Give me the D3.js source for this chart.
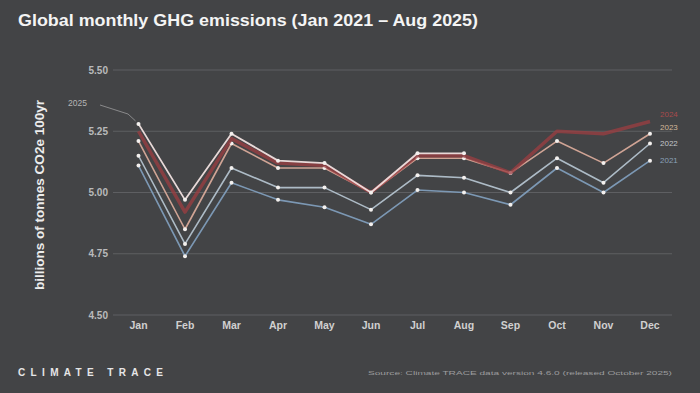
<!DOCTYPE html>
<html>
<head>
<meta charset="utf-8">
<script src="https://cdn.jsdelivr.net/npm/d3@7"></script>
<style>
  html, body { margin: 0; padding: 0; background: #434446; }
  svg { display: block; }
</style>
</head>
<body>
<svg id="chart" width="700" height="393"></svg>
<script>
const months = ["Jan", "Feb", "Mar", "Apr", "May", "Jun", "Jul", "Aug", "Sep", "Oct", "Nov", "Dec"]
const yTicks = [4.50, 4.75, 5.00, 5.25, 5.50]

const y2021 = [5.11, 4.74, 5.04, 4.97, 4.94, 4.87, 5.01, 5.00, 4.95, 5.10, 5.00, 5.13]
const y2022 = [5.15, 4.79, 5.10, 5.02, 5.02, 4.93, 5.07, 5.06, 5.00, 5.14, 5.04, 5.20]
const y2023 = [5.21, 4.85, 5.20, 5.10, 5.10, 5.00, 5.14, 5.14, 5.08, 5.21, 5.12, 5.24]
const y2024 = [5.25, 4.92, 5.22, 5.12, 5.11, 5.00, 5.15, 5.15, 5.08, 5.25, 5.24, 5.29]
const y2025 = [5.28, 4.97, 5.24, 5.13, 5.12, 5.00, 5.16, 5.16]

const series = [
  { name: "2021", values: y2021, color: "#7f9dbb", width: 1.6, dots: true },
  { name: "2022", values: y2022, color: "#b3c2ce", width: 1.6, dots: true },
  { name: "2023", values: y2023, color: "#d8aa9a", width: 1.6, dots: true },
  { name: "2024", values: y2024, color: "#9c3e42", width: 3.5, dots: false },
  { name: "2025", values: y2025, color: "#f1e2e0", width: 1.8, dots: true }
]

const svg = d3.select("#chart")

const x = d3.scalePoint().domain(months).range([138.5, 650])
const y = d3.scaleLinear().domain([4.5, 5.5]).range([315, 70])

// title
svg.append("text")
  .attr("x", 18).attr("y", 26)
  .attr("fill", "#f4f4f4")
  .attr("font-family", "Liberation Sans, Arial, sans-serif")
  .attr("font-weight", "bold")
  .attr("font-size", 17)
  .attr("textLength", 460)
  .attr("lengthAdjust", "spacingAndGlyphs")
  .text("Global monthly GHG emissions (Jan 2021 \u2013 Aug 2025)")

// grid + y labels
const grid = svg.append("g")
grid.selectAll("line").data(yTicks).join("line")
  .attr("x1", 113).attr("x2", 672)
  .attr("y1", d => y(d)).attr("y2", d => y(d))
  .attr("stroke", "#5e5f62").attr("stroke-width", 1)
grid.selectAll("text").data(yTicks).join("text")
  .attr("x", 108).attr("y", d => y(d) + 3.5)
  .attr("text-anchor", "end")
  .attr("fill", "#b9babb")
  .attr("font-family", "Liberation Sans, Arial, sans-serif")
  .attr("font-weight", "bold")
  .attr("font-size", 10)
  .text(d => d.toFixed(2))

// y title
svg.append("text")
  .attr("transform", "translate(44,195) rotate(-90)")
  .attr("text-anchor", "middle")
  .attr("fill", "#ececec")
  .attr("font-family", "Liberation Sans, Arial, sans-serif")
  .attr("font-weight", "bold")
  .attr("font-size", 12)
  .attr("textLength", 190)
  .attr("lengthAdjust", "spacingAndGlyphs")
  .text("billions of tonnes CO2e 100yr")

// x labels
svg.append("g").selectAll("text").data(months).join("text")
  .attr("x", d => x(d)).attr("y", 329)
  .attr("text-anchor", "middle")
  .attr("fill", "#d0d0d0")
  .attr("font-family", "Liberation Sans, Arial, sans-serif")
  .attr("font-weight", "bold")
  .attr("font-size", 10.5)
  .text(d => d)

// lines
const line = d3.line()
  .x((d, i) => x(months[i]))
  .y(d => y(d))

const lines = svg.append("g")
series.forEach(s => {
  lines.append("path")
    .attr("fill", "none")
    .attr("stroke", s.color)
    .attr("stroke-opacity", s.dots ? 0.95 : 0.75)
    .attr("stroke-width", s.width)
    .attr("stroke-linejoin", "round")
    .attr("d", line(s.values))
  if (s.dots) {
    lines.append("g").selectAll("circle").data(s.values).join("circle")
      .attr("cx", (d, i) => x(months[i]))
      .attr("cy", d => y(d))
      .attr("r", 2)
      .attr("fill", "#f3f0ee")
  }
})

// end labels
const endLabels = [
  { name: "2024", values: y2024, color: "#a84a4c", dy: -4 },
  { name: "2023", values: y2023, color: "#d2b89a", dy: -4 },
  { name: "2022", values: y2022, color: "#c2c6ca", dy: 2 },
  { name: "2021", values: y2021, color: "#8aa0b8", dy: 2 }
]
svg.append("g").selectAll("text").data(endLabels).join("text")
  .attr("x", 660)
  .attr("y", d => y(d.values[11]) + d.dy)
  .attr("fill", d => d.color)
  .attr("font-family", "Liberation Sans, Arial, sans-serif")
  .attr("font-size", 8)
  .text(d => d.name)

// 2025 annotation
svg.append("path")
  .attr("fill", "none")
  .attr("stroke", "#9a9a9c")
  .attr("stroke-width", 0.8)
  .attr("d", d3.line()([[100, 105], [128, 114], [x("Jan") - 3, y(y2025[0]) - 3]]))
svg.append("text")
  .attr("x", 68).attr("y", 106)
  .attr("fill", "#b5b5b5")
  .attr("font-family", "Liberation Sans, Arial, sans-serif")
  .attr("font-size", 8.5)
  .text("2025")

// footer
svg.append("text")
  .attr("x", 18).attr("y", 376)
  .attr("fill", "#e6e6e6")
  .attr("font-family", "Liberation Sans, Arial, sans-serif")
  .attr("font-weight", "bold")
  .attr("font-size", 10)
  .attr("textLength", 145)
  .attr("lengthAdjust", "spacing")
  .text("CLIMATE TRACE")

svg.append("text")
  .attr("x", 368).attr("y", 375)
  .attr("fill", "#9c9c9e")
  .attr("font-family", "Liberation Sans, Arial, sans-serif")
  .attr("font-size", 6)
  .attr("textLength", 304)
  .attr("lengthAdjust", "spacingAndGlyphs")
  .text("Source: Climate TRACE data version 4.6.0 (released October 2025)")
</script>
</body>
</html>
